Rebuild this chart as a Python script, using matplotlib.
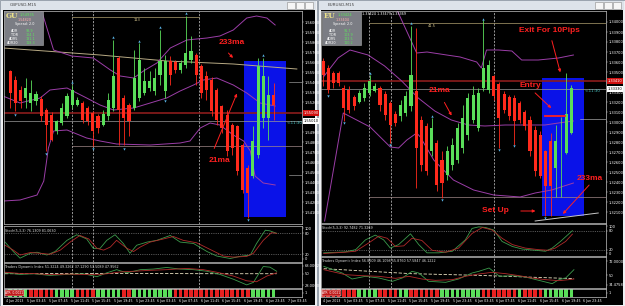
import numpy as np
import matplotlib.pyplot as plt
from matplotlib.patches import Rectangle
from matplotlib.transforms import blended_transform_factory

W, H = 625, 306

# ---------------- GBPUSD M15 (left) : prices as pips above base ----------------
GU_BASE = 1.5400
gu_open = [151, 142, 132, 124, 119, 121, 123, 112, 107, 91, 99, 106, 117, 117, 119, 114, 109, 106, 97, 106,
           114, 164, 124, 117, 114, 124, 129, 134, 131, 147, 131, 161, 160, 152, 157, 162, 167, 156, 146, 142,
           132, 116, 107, 97, 96, 77, 54, 46, 67, 104, 104, 127]
gu_close = [129, 119, 121, 134, 129, 128, 106, 97, 82, 101, 114, 126, 132, 122, 102, 101, 91, 94, 108, 122,
            146, 112, 104, 101, 144, 162, 141, 141, 144, 161, 161, 147, 152, 159, 169, 171, 147, 129, 132, 111,
            102, 94, 71, 74, 51, 32, 29, 81, 156, 146, 127, 117]
gu_high = [152, 146, 136, 144, 142, 131, 126, 114, 110, 102, 119, 129, 137, 125, 121, 116, 111, 108, 112, 129,
           182, 166, 127, 119, 172, 179, 154, 151, 154, 192, 167, 166, 162, 162, 206, 186, 169, 158, 151, 145,
           134, 117, 112, 99, 97, 79, 57, 96, 164, 164, 146, 139]
gu_low = [114, 111, 114, 114, 111, 117, 101, 71, 81, 88, 97, 104, 114, 116, 99, 97, 76, 89, 96, 102,
          111, 77, 77, 86, 112, 121, 127, 131, 127, 137, 124, 137, 149, 149, 154, 159, 137, 124, 122, 106,
          97, 89, 66, 67, 47, 29, 4, 44, 64, 94, 82, 102]

gu_up_x = [6.1, 8.4, 11.9, 16.1, 19.4, 21.3, 23.9, 25.8, 28.4, 31.0, 34.2, 38.1, 40.6, 43.2, 45.8, 47.7, 49.7, 51.3]
gu_up_y = [211, 172, 166, 164, 152, 146, 144, 151, 159, 174, 182, 184, 186, 192, 204, 206, 204, 197]
gu_mid_x = [-1.9, 1.9, 5.8, 7.7, 11.0, 14.8, 17.4, 20.0, 23.9, 27.1, 30.3, 32.9, 35.5, 37.4, 40.0, 43.2, 45.8, 48.4, 51.3]
gu_mid_y = [127, 119, 124, 132, 134, 124, 117, 112, 114, 119, 124, 131, 137, 142, 144, 137, 129, 119, 116]
gu_lo_x = [-1.3, 1.9, 5.2, 6.5, 7.4, 8.4, 11.0, 14.8, 17.4, 20.6, 27.1, 32.9, 34.8, 36.8, 38.7, 40.6, 43.2,
           45.2, 46.5, 47.4, 49.0, 51.3]
gu_lo_y = [21, 22, 27, 41, 74, 91, 92, 84, 81, 78, 77, 79, 81, 94, 99, 97, 87, 81, 71, 46, 39, 37]
gu_ma233_x = [-1.3, 17.4, 30.3, 43.2, 55.5]
gu_ma233_y = [174, 167, 161, 158, 153]
gu_arrows_up = [(12, 140), (20, 185), (25, 181), (29, 195), (34, 209), (49, 167)]
gu_arrows_dn = [(1, 107), (7, 68), (16, 73), (22, 73), (30, 121), (46, 2)]

gu_stoch_main_x = [-1.0, 0.6, 1.9, 3.9, 5.2, 7.1, 8.7, 11.0, 12.9, 14.8, 16.1, 17.4, 18.7, 20.3, 21.9, 23.2, 24.5,
                   26.5, 28.4, 31.0, 32.9, 35.5, 38.1, 40.0, 42.6, 44.5, 46.5, 47.7, 49.4, 50.3, 51.6]
gu_stoch_main = [55, 28, 9, 23, 26, 18, 28, 60, 76, 64, 37, 37, 60, 76, 51, 23, 46, 55, 60, 74, 55, 51, 28, 15,
                 8, 14, 18, 51, 89, 87, 80]
gu_stoch_sig_x = [-1.0, 0.6, 1.9, 3.9, 5.8, 7.7, 9.7, 11.6, 13.5, 15.2, 16.8, 18.1, 19.4, 20.6, 22.6, 23.9, 25.2,
                  27.1, 29.7, 31.6, 33.5, 36.1, 38.7, 41.3, 43.2, 45.8, 47.1, 49.0, 50.6, 51.6]
gu_stoch_sig = [46, 32, 18, 25, 23, 20, 32, 55, 74, 64, 37, 32, 41, 60, 37, 28, 41, 55, 64, 71, 60, 53, 34, 15,
                12, 14, 23, 60, 82, 80]
gu_tdi_green_x = [-1.0, 1.9, 4.5, 7.7, 11.0, 14.2, 16.8, 18.7, 20.6, 22.6, 25.2, 27.7, 30.3, 32.9, 35.5, 38.1,
                  40.6, 43.2, 45.8, 47.1, 49.0, 50.3, 51.6]
gu_tdi_green = [51.5, 48.8, 49.9, 47.2, 48.8, 49.9, 45.0, 51.5, 56.8, 51.5, 56.8, 57.8, 60.5, 57.8, 56.8, 54.1,
                48.8, 40.8, 31.2, 35.5, 62.1, 61.0, 54.1]
gu_tdi_red_x = [-1.0, 1.9, 4.5, 7.7, 11.0, 14.2, 16.8, 18.7, 21.3, 23.9, 27.1, 30.3, 34.2, 37.4, 40.0, 43.2,
                45.8, 47.7, 49.7, 51.6]
gu_tdi_red = [52.5, 50.4, 50.4, 48.3, 49.4, 48.8, 48.3, 49.9, 53.0, 54.1, 55.7, 56.8, 58.9, 56.8, 52.5, 46.1,
              38.1, 36.5, 46.1, 51.5]
gu_tdi_mid_x = [-1.0, 20.0, 40.0, 51.6]
gu_tdi_mid = [50.0, 50.5, 50.0, 50.0]
gu_hist_runs = [('g', 4), ('r', 5), ('g', 4), ('r', 4), ('g', 5), ('r', 2), ('g', 8), ('r', 15), ('g', 5)]
gu_dates = ["4 Jun 2013", "5 Jun 03:45", "5 Jun 07:45", "5 Jun 11:45", "5 Jun 15:45", "5 Jun 19:45",
            "5 Jun 23:45", "6 Jun 03:45", "6 Jun 07:45", "6 Jun 11:45", "6 Jun 15:45", "6 Jun 19:45",
            "6 Jun 23:45", "7 Jun 03:45"]

# ---------------- EURUSD M15 (right) ----------------
EU_BASE = 1.3200
eu_open = [161, 154, 149, 149, 134, 132, 125, 120, 124, 129, 131, 134, 128, 119, 108, 106, 109, 116, 131, 102,
           96, 71, 79, 62, 47, 57, 62, 74, 87, 102, 94, 134, 132, 146, 138, 128, 125, 124, 119, 110,
           102, 92, 87, 71, 81, 54, 81, 69, 89]
eu_close = [147, 132, 139, 139, 114, 112, 116, 129, 134, 141, 136, 117, 107, 97, 99, 117, 126, 147, 74, 57,
            51, 94, 37, 39, 71, 77, 94, 104, 124, 127, 129, 154, 157, 126, 104, 112, 106, 101, 102, 96,
            71, 51, 46, 36, 36, 81, 81, 108, 134]
eu_high = [164, 157, 151, 151, 137, 136, 127, 132, 139, 147, 139, 136, 131, 121, 111, 122, 131, 196, 194, 106,
           99, 104, 82, 71, 76, 84, 99, 117, 129, 136, 134, 202, 162, 147, 140, 131, 127, 127, 121, 112,
           106, 96, 91, 72, 89, 97, 105, 149, 137]
eu_low = [136, 129, 134, 136, 101, 109, 112, 119, 121, 126, 130, 111, 102, 79, 96, 101, 106, 111, 34, 51,
          47, 66, 31, 24, 42, 52, 59, 69, 82, 99, 91, 131, 129, 122, 74, 109, 102, 77, 99, 92,
          66, 46, 44, 6, 6, 25, 25, 68, 88]

eu_up_x = [14.3, 18.1, 20.1, 23.9, 26.5, 29.7, 30.6, 31.6, 33.9, 36.5, 38.4, 41.6, 45.5, 48.4]
eu_up_y = [212, 169, 170, 167, 165, 160, 154, 172, 172, 171, 162, 162, 164, 167]
eu_mid_x = [0.06, 2.9, 5.2, 8.7, 11.9, 15.2, 18.4, 21.6, 24.8, 28.1, 31.3, 35.2, 39.0, 42.9, 45.5, 48.4]
eu_mid_y = [145, 164, 172, 167, 156, 141, 124, 111, 102, 97, 96, 97, 97, 97, 99, 101]
eu_lo_x = [0.3, 3.9, 9.1, 13.0, 14.6, 16.2, 18.1, 18.8, 21.4, 25.2, 29.1, 33.0, 38.1, 41.0, 44.2, 48.4]
eu_lo_y = [1, 109, 95, 75, 74, 82, 89, 85, 62, 42, 32, 27, 25, 29, 32, 39]
eu_ma233_x = [41.0, 53.2]
eu_ma233_y = [1, 9]
eu_arrows_up = [(9, 149), (17, 199), (21, 106), (31, 203)]
eu_arrows_dn = [(1, 126), (4, 99), (13, 77), (23, 22), (34, 72), (37, 76), (43, 4)]

eu_stoch_main_x = [0.13, 4.3, 6.3, 8.2, 10.1, 11.7, 13.0, 14.6, 16.9, 18.5, 20.1, 22.4, 25.0, 27.5, 28.8, 30.1,
                   31.4, 33.0, 34.6, 36.6, 38.5, 41.1, 43.0, 44.3, 45.9, 48.2]
eu_stoch_main = [10, 13, 20, 51, 66, 51, 25, 36, 70, 36, 10, 10, 15, 51, 87, 92, 90, 82, 46, 30, 22, 18, 15,
                 25, 46, 80]
eu_stoch_sig_x = [0.13, 4.3, 6.3, 8.8, 10.8, 12.4, 14.0, 15.6, 17.2, 19.1, 21.1, 23.7, 26.2, 28.8, 30.8, 32.7,
                  34.6, 36.6, 39.1, 41.7, 43.6, 44.9, 46.9, 48.2]
eu_stoch_sig = [8, 12, 15, 41, 63, 56, 30, 32, 56, 49, 18, 12, 25, 71, 90, 82, 56, 36, 25, 20, 18, 25, 46, 69]
eu_tdi_green_x = [0.13, 3.7, 5.6, 8.2, 10.8, 13.4, 15.3, 17.2, 18.5, 20.4, 23.7, 26.2, 28.8, 30.1, 32.1, 34.1,
                  36.6, 39.1, 41.7, 44.3, 45.6, 46.9, 48.5]
eu_tdi_green = [60.8, 52.8, 45.6, 48.8, 46.8, 42.8, 46.8, 54.8, 52.8, 42.8, 41.6, 45.6, 52.8, 54.8, 58.8, 48.8,
                49.6, 48.0, 44.0, 40.0, 44.8, 46.8, 56.8]
eu_tdi_red_x = [0.13, 4.3, 7.5, 10.8, 14.0, 16.6, 19.1, 21.7, 25.0, 27.5, 30.1, 32.7, 35.3, 37.9, 40.4, 43.0,
                45.6, 47.5, 48.5]
eu_tdi_red = [56.8, 50.8, 49.6, 48.8, 46.4, 48.8, 45.6, 44.0, 44.8, 48.8, 51.6, 53.6, 52.0, 49.6, 46.8, 44.8,
              43.6, 44.8, 45.6]
eu_tdi_mid_x = [0.13, 17.0, 30.0, 48.5]
eu_tdi_mid = [58.0, 52.0, 50.0, 46.0]
eu_hist_runs = [('r', 7), ('g', 4), ('r', 4), ('g', 2), ('r', 6), ('g', 8), ('r', 7), ('g', 1), ('r', 4), ('g', 6)]
eu_dates = ["4 Jun 2013", "5 Jun 03:45", "5 Jun 07:45", "5 Jun 11:45", "5 Jun 15:45", "5 Jun 19:45",
            "5 Jun 23:45", "6 Jun 03:45", "6 Jun 07:45", "6 Jun 11:45", "6 Jun 15:45", "6 Jun 19:45",
            "6 Jun 23:45", "7 Jun 03:45"]

GREEN = '#5ade5a'
RED = '#ff2a1c'
PURPLE = '#9c3ea8'
BLUE = '#0a12e8'
TXT_RED = '#ff2020'
CYAN = '#5ab4e6'
SPINE = '#c4c4c4'

fig = plt.figure(figsize=(W / 100, H / 100), dpi=100)
fig.patch.set_facecolor('#d5dae2')


def px_axes(x0, y0, x1, y1):
    ax = fig.add_axes([x0 / W, 1 - y1 / H, (x1 - x0) / W, (y1 - y0) / H])
    ax.set_facecolor('black')
    for s in ax.spines.values():
        s.set_color(SPINE)
        s.set_linewidth(0.5)
    ax.set_xticks([])
    ax.yaxis.tick_right()
    ax.tick_params(axis='y', colors='#bbbbbb', labelcolor='white', labelsize=2.6, length=1.2, width=0.3, pad=0.8)
    return ax


def px_rect(x0, y0, x1, y1, color, z=-2, **kw):
    fig.patches.append(Rectangle((x0 / W, 1 - y1 / H), (x1 - x0) / W, (y1 - y0) / H,
                                 transform=fig.transFigure, facecolor=color, zorder=z, **kw))


def px_text(x, y, s, **kw):
    fig.text(x / W, 1 - y / H, s, **kw)


def window(x0, x1, title):
    px_rect(x0, 0, x1, H, '#eef0f3', z=-3, edgecolor='#8e98a4', linewidth=0.6)
    px_rect(x0 + 1, 0.5, x1 - 1, 10, '#dde3ea', z=-3)
    px_text(x0 + 10, 5, title, fontsize=3, color='#444444', va='center')
    for k in range(3):
        bx = x1 - 30 + k * 9
        px_rect(bx, 2, bx + 8, 8.5, '#f5f5f5', z=-2, edgecolor='#8a8a8a', linewidth=0.4)
    px_rect(x0 + 3, 10, x1 - 2, H - 1.5, 'black', z=-2)


def info_box(x0, y0, tag, v1, v2, vals):
    px_rect(x0, y0, x0 + 39, y0 + 34, '#7b7d84', z=5, edgecolor='#aaaaaa', linewidth=0.4)
    px_text(x0 + 1.5, y0 + 5.5, tag, fontsize=5.2, color='#ece28a', fontweight='bold', family='DejaVu Serif',
            va='center', zorder=6)
    px_text(x0 + 16, y0 + 3.5, v1, fontsize=2.6, color='#5ee35e', va='center', zorder=6)
    px_text(x0 + 14, y0 + 9, v2, fontsize=2.4, color='#ffb0b0', va='center', zorder=6)
    px_text(x0 + 11, y0 + 13.5, 'Spread: 2.0', fontsize=2.4, color='white', va='center', zorder=6)
    for k, (lab, val) in enumerate(zip(['ADR', 'TDR', 'ADR5', 'ADR20'], vals)):
        px_text(x0 + 14, y0 + 19.5 + 4 * k, lab, fontsize=2.4, color='white', va='center', ha='right', zorder=6)
        px_text(x0 + 22, y0 + 19.5 + 4 * k, val, fontsize=2.4, color='#5ee35e', va='center', zorder=6)


def draw_chart(c):
    base = c['base']
    to_p = lambda v: base + np.asarray(v, dtype=float) / 1e4
    o, hi, lo, cl = to_p(c['open']), to_p(c['high']), to_p(c['low']), to_p(c['close'])
    n = len(o)
    idx = np.arange(n)
    x0, x1 = c['x']
    xlim = c['xlim']

    # ---- main price chart ----
    ax = px_axes(x0, 11, x1, c['main_bottom'])
    ax.set_xlim(*xlim)
    ax.set_ylim(to_p(c['ylim'][0]), to_p(c['ylim'][1]))
    bx0, bx1, by0, by1 = c['box']
    ax.add_patch(Rectangle((bx0, to_p(by0)), bx1 - bx0, to_p(by1) - to_p(by0), facecolor=BLUE, zorder=1))
    for xv in c['vlines']:
        ax.axvline(xv, color='#d0d0d0', lw=0.5, ls=(0, (3, 2)), zorder=1.5)
    for yv, col, lw, xs in c['hlines']:
        ax.plot(xs, [to_p(yv)] * 2, color=col, lw=lw, zorder=1.6)
    ax.plot(c['ma233'][0], to_p(c['ma233'][1]), color=c['ma233_color'], lw=0.7, zorder=1.7)
    for bxs, bys in c['bands']:
        ax.plot(bxs, to_p(bys), color=PURPLE, lw=0.7, zorder=1.7)
    up = cl >= o
    cols = np.where(up, GREEN, RED)
    ax.vlines(idx, lo, hi, colors=cols, lw=0.6, zorder=2)
    body = np.maximum(np.abs(cl - o), 0.00004)
    ax.bar(idx, body, bottom=np.minimum(o, cl), width=0.6, color=cols, zorder=2.1)
    ax.scatter([p[0] for p in c['arr_up']], to_p([p[1] for p in c['arr_up']]), marker='^', s=3,
               color=CYAN, lw=0, zorder=3)
    ax.scatter([p[0] for p in c['arr_dn']], to_p([p[1] for p in c['arr_dn']]), marker='v', s=3,
               color=CYAN, lw=0, zorder=3)
    ticks = np.arange(10, c['ylim'][1] - 3, 10)
    ax.set_yticks(to_p(ticks))
    ax.set_yticklabels([f'{v:.5f}' for v in to_p(ticks)])
    tr = blended_transform_factory(ax.transAxes, ax.transData)
    rp, wp = c['price_tags']
    ax.text(1.005, to_p(rp), f'{to_p(rp):.5f}', transform=tr, fontsize=2.6, color='white', va='center',
            bbox=dict(boxstyle='square,pad=0.15', fc='#d01010', ec='none'), zorder=5, clip_on=False)
    ax.text(1.005, to_p(wp), f'{to_p(wp):.5f}', transform=tr, fontsize=2.6, color='black', va='center',
            bbox=dict(boxstyle='square,pad=0.15', fc='white', ec='none'), zorder=5, clip_on=False)
    tx, ty = c['time_tag']
    ax.text(tx, to_p(ty), '<-11:30', fontsize=2.8, color='#4cc8c8', va='center', zorder=5)
    lx, ly, ls = c['level_tag']
    ax.text(lx, to_p(ly), ls, fontsize=2.6, color='#d8c890', ha='center', va='center', zorder=5)
    for s, (tx, ty), (ax0, ay0), (ax1, ay1) in c['notes']:
        ax.text(tx, to_p(ty), s, fontsize=6, color=TXT_RED, fontweight='bold', ha='center', va='center',
                family='Liberation Sans', zorder=6)
        ax.annotate('', xy=(ax1, to_p(ay1)), xytext=(ax0, to_p(ay0)),
                    arrowprops=dict(arrowstyle='-|>', color=TXT_RED, lw=0.7, mutation_scale=4), zorder=6)
    for (ex0, ex1), ey in c.get('entry', []):
        ax.plot([ex0, ex1], [to_p(ey)] * 2, color=TXT_RED, lw=1.3, zorder=6)

    # ---- stochastic ----
    sy0, sy1 = c['stoch_y']
    axs = px_axes(x0, sy0, x1, sy1)
    axs.set_xlim(*xlim)
    axs.set_ylim(*c['stoch_lim'])
    for lv in (20, 80):
        axs.axhline(lv, color='#9a9a9a', lw=0.4, ls=(0, (2, 2)))
    for xv in c['vlines']:
        axs.axvline(xv, color='#d0d0d0', lw=0.5, ls=(0, (3, 2)))
    axs.plot(c['stoch_main'][0], c['stoch_main'][1], color='#3c9a4c', lw=0.6)
    axs.plot(c['stoch_sig'][0], c['stoch_sig'][1], color='#b02a2a', lw=0.6)
    axs.set_yticks([8, 20, 80, 94])
    axs.set_yticklabels(['0', '20', '80', '100'])
    axs.text(0.005, 0.93, c['stoch_label'], transform=axs.transAxes, fontsize=2.4, color='#dddddd', va='top')

    # ---- TDI ----
    ty0, ty1 = c['tdi_y']
    axt = px_axes(x0, ty0, x1, ty1)
    axt.set_xlim(*xlim)
    axt.set_ylim(*c['tdi_lim'])
    for xv in c['vlines']:
        axt.axvline(xv, color='#d0d0d0', lw=0.5, ls=(0, (3, 2)))
    axt.plot(c['tdi_mid'][0], c['tdi_mid'][1], color='#e8e0c0', lw=0.6, ls=(0, (4, 2)))
    axt.plot(c['tdi_green'][0], c['tdi_green'][1], color='#3c9a4c', lw=0.6)
    axt.plot(c['tdi_red'][0], c['tdi_red'][1], color='#b02a2a', lw=0.6)
    axt.set_yticks(c['tdi_ticks'])
    axt.set_yticklabels(c['tdi_ticklabels'])
    axt.text(0.005, 0.93, c['tdi_label'], transform=axt.transAxes, fontsize=2.4, color='#dddddd', va='top')

    # ---- histogram strip ----
    hy0, hy1 = c['hist_y']
    axh = px_axes(x0, hy0, x1, hy1)
    axh.set_xlim(*xlim)
    axh.set_ylim(0, 1)
    hcols = []
    for col, cnt in c['hist_runs']:
        hcols += [GREEN if col == 'g' else '#e82020'] * cnt
    axh.bar(idx, 1, width=0.7, color=hcols[:n], bottom=0)
    axh.set_yticks([0.5])
    axh.set_yticklabels(['1'])
    axh.text(0.004, 0.5, 'ATR: 0.0021', transform=axh.transAxes, fontsize=2.2, color='white', va='center',
             bbox=dict(boxstyle='square,pad=0.2', fc='#c01818', ec='#ffffff', lw=0.3), zorder=5)

    # ---- date labels ----
    trd = blended_transform_factory(axh.transData, axh.transAxes)
    for k, lab in enumerate(c['dates']):
        xp = xlim[0] + 0.3 + k * 4.2
        if xp < xlim[1] - 1:
            axh.text(xp, -0.25, lab, transform=trd, fontsize=2.3, color='white', va='top', clip_on=False)


window(0, 317, 'GBPUSD,M15')
window(318, 625, 'EURUSD,M15')

draw_chart(dict(
    base=GU_BASE, open=gu_open, high=gu_high, low=gu_low, close=gu_close,
    x=(4, 302), xlim=(-1.2, 56.5), main_bottom=224, ylim=(-2, 211),
    box=(45.3, 53.4, 5, 161), vlines=[12.0, 16.1, 36.5],
    hlines=[(109, '#8c1c1c', 1.2, [-1.2, 56.5]), (101, '#9a9a9a', 0.5, [-1.2, 56.5]),
            (76, '#a08888', 0.5, [12.0, 56.5]), (205, '#b0a070', 0.5, [12.0, 36.5]),
            (140, '#bbbbbb', 0.4, [54.0, 56.5]), (47, '#bbbbbb', 0.4, [54.0, 56.5])],
    ma233=(gu_ma233_x, gu_ma233_y), ma233_color='#b8aa84',
    bands=[(gu_up_x, gu_up_y), (gu_mid_x, gu_mid_y), (gu_lo_x, gu_lo_y)],
    arr_up=gu_arrows_up, arr_dn=gu_arrows_dn,
    price_tags=(109, 101), time_tag=(53.6, 99), level_tag=(24.5, 202, '113'),
    notes=[('233ma', (43.0, 179), (41.9, 171), (43.5, 162)),
           ('21ma', (40.6, 62), (39.3, 71), (44.1, 131))],
    stoch_y=(226, 262), stoch_lim=(-2, 101),
    stoch_main=(gu_stoch_main_x, gu_stoch_main), stoch_sig=(gu_stoch_sig_x, gu_stoch_sig),
    stoch_label='Stoch(5,3,3) 76.1309 81.0630',
    tdi_y=(263, 288), tdi_lim=(26, 68), tdi_ticks=[63, 50, 31],
    tdi_ticklabels=['68.0002', '50', '28.0000'],
    tdi_green=(gu_tdi_green_x, gu_tdi_green), tdi_red=(gu_tdi_red_x, gu_tdi_red),
    tdi_mid=(gu_tdi_mid_x, gu_tdi_mid),
    tdi_label='Traders Dynamic Index 51.3224 49.3262 37.1290 53.5089 47.9562',
    hist_y=(289, 297), hist_runs=gu_hist_runs, dates=gu_dates,
))

draw_chart(dict(
    base=EU_BASE, open=eu_open, high=eu_high, low=eu_low, close=eu_close,
    x=(321, 606), xlim=(-0.4, 54.7), main_bottom=223, ylim=(-1, 211),
    box=(42.4, 50.4, 6, 144), vlines=[8.8, 13.1, 33.1],
    hlines=[(141, '#8c1c1c', 1.2, [-0.4, 54.7]), (133, '#9a9a9a', 0.5, [-0.4, 54.7]),
            (25, '#a08888', 0.5, [8.8, 54.7]), (199, '#b0a070', 0.5, [8.8, 54.7]),
            (103, '#cccccc', 0.4, [49.7, 54.7])],
    ma233=(eu_ma233_x, eu_ma233_y), ma233_color='#c8c8c8',
    bands=[(eu_up_x, eu_up_y), (eu_mid_x, eu_mid_y), (eu_lo_x, eu_lo_y)],
    arr_up=eu_arrows_up, arr_dn=eu_arrows_dn,
    price_tags=(141, 133), time_tag=(50.6, 131), level_tag=(21.0, 196, '41.5'),
    notes=[('Exit For 10Pips', (43.8, 191), (44.1, 184), (46.0, 147)),
           ('Entry', (40.0, 136), (40.6, 131), (44.5, 112)),
           ('21ma', (22.6, 131), (23.2, 122), (25.1, 104)),
           ('233ma', (51.5, 44), (51.8, 39), (46.0, 6)),
           ('Set Up', (33.3, 12), (37.7, 11), (41.6, 11))],
    entry=[((42.9, 46.8), 106)],
    stoch_y=(224, 256), stoch_lim=(0, 101),
    stoch_main=(eu_stoch_main_x, eu_stoch_main), stoch_sig=(eu_stoch_sig_x, eu_stoch_sig),
    stoch_label='Stoch(5,3,3) 92.7482 71.3269',
    tdi_y=(257, 288), tdi_lim=(34.8, 72), tdi_ticks=[67, 50, 39],
    tdi_ticklabels=['72.0000', '50', '34.4758'],
    tdi_green=(eu_tdi_green_x, eu_tdi_green), tdi_red=(eu_tdi_red_x, eu_tdi_red),
    tdi_mid=(eu_tdi_mid_x, eu_tdi_mid),
    tdi_label='Traders Dynamic Index 56.8609 46.1098 55.8760 57.5847 46.1222',
    hist_y=(289, 297), hist_runs=eu_hist_runs, dates=eu_dates,
))

info_box(4, 11, 'GU', '1.54935', '1.54820', ['93.9', '104.1', '131.1', '118.3'])
info_box(322, 11, 'EU', '1.33424', '1.33404', ['91.7', '103.9', '123.5', '110.2'])
px_text(362, 14, '1.33424 1.33479 1.33369', fontsize=2.4, color='white', va='center')

fig.savefig('out.png', dpi=100, facecolor=fig.get_facecolor())
